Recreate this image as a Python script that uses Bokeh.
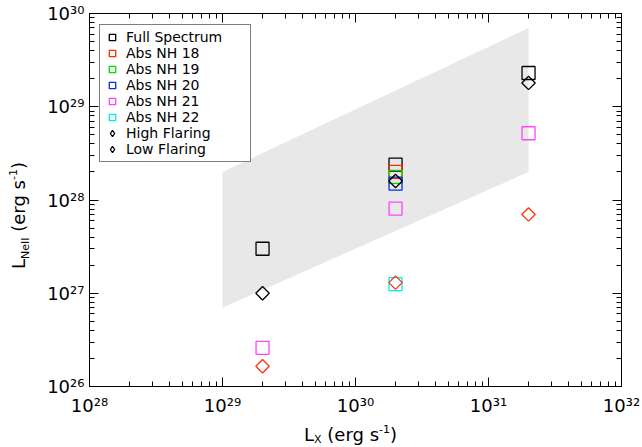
import math
from bokeh.plotting import figure
from bokeh.models import (LogAxis, LogTicker, CustomJSTickFormatter, Legend,
                          LegendItem, Range1d, Div)
from bokeh.layouts import row, column
from bokeh.embed import file_html
from bokeh.resources import INLINE

FONT = "DejaVu Sans"

# ---------------- data ----------------
x_limits = [1e28, 1e32]
y_limits = [1e26, 1e30]

band_x = [1e29, 1e29, 2e31, 2e31]
band_y = [7e26, 2e28, 7e29, 2e28]

full_x = [2e29, 2e30, 2e31]
full_y = [3.0e27, 2.4e28, 2.3e29]
nh18_x = [2e30]
nh18_y = [2.0e28]
nh19_x = [2e30]
nh19_y = [1.77e28]
nh20_x = [2e30]
nh20_y = [1.5e28]
nh21_x = [2e29, 2e30, 2e31]
nh21_y = [2.6e26, 8.1e27, 5.2e28]
nh22_x = [2e30]
nh22_y = [1.25e27]
high_x = [2e29, 2e30, 2e31]
high_y = [1.0e27, 1.6e28, 1.8e29]
low_x = [2e29, 2e30, 2e31]
low_y = [1.65e26, 1.3e27, 7.0e27]

labels = ["Full Spectrum", "Abs NH 18", "Abs NH 19", "Abs NH 20",
          "Abs NH 21", "Abs NH 22", "High Flaring", "Low Flaring"]

# ---------------- layout ----------------
YT_W = 30            # width of the y-title column
XT_H = 29            # height of the x-title row
PW, PH = 642 - YT_W, 447 - XT_H
ML, MR, MT, MB = 59, 21, 13, 30
FW, FH = PW - ML - MR, PH - MT - MB

p = figure(width=PW, height=PH, x_axis_type="log", y_axis_type="log",
           x_range=Range1d(*x_limits), y_range=Range1d(*y_limits),
           output_backend="svg", toolbar_location=None,
           min_border_left=ML, min_border_right=MR,
           min_border_top=MT, min_border_bottom=MB)
p.grid.visible = False
p.outline_line_color = "black"
p.background_fill_color = "white"
p.border_fill_color = "white"

sup_code = """
const sup = {"0":"\u2070","1":"\u00b9","2":"\u00b2","3":"\u00b3","4":"\u2074",
             "5":"\u2075","6":"\u2076","7":"\u2077","8":"\u2078","9":"\u2079","-":"\u207b"};
const e = Math.round(Math.log10(tick));
return "10" + String(e).split("").map(c => sup[c]).join("");
"""

p.add_layout(LogAxis(), "above")
p.add_layout(LogAxis(), "right")

for ax in p.axis:
    ax.ticker = LogTicker(num_minor_ticks=10)
    ax.axis_line_color = "black"
    ax.axis_line_width = 1
    ax.major_tick_in = 9
    ax.major_tick_out = 0
    ax.minor_tick_in = 5
    ax.minor_tick_out = 0
    ax.major_tick_line_color = "black"
    ax.minor_tick_line_color = "black"
    ax.major_label_text_font = FONT
    ax.major_label_text_font_size = "18px"
    ax.major_label_text_color = "black"

for ax in [p.below[0], p.left[0]]:
    ax.formatter = CustomJSTickFormatter(code=sup_code)
p.below[0].major_label_standoff = 8
p.left[0].major_label_standoff = 5
for ax in [p.above[0], p.right[0]]:
    ax.formatter = CustomJSTickFormatter(code="return '';")
    ax.major_label_standoff = 0
    ax.major_label_text_font_size = "1px"

# ---------------- shaded band ----------------
p.patch(band_x, band_y, fill_color="#e8e8e8", line_color=None)

# ---------------- markers ----------------
SQ = 13
DI = 9.5
LW = 1.3
r_full = p.scatter(full_x, full_y, marker="square", size=SQ, fill_color=None,
                   line_color="black", line_width=LW)
r18 = p.scatter(nh18_x, nh18_y, marker="square", size=SQ, fill_color=None,
                line_color="#ff2a00", line_width=LW)
r19 = p.scatter(nh19_x, nh19_y, marker="square", size=SQ, fill_color=None,
                line_color="#00dd00", line_width=LW)
r20 = p.scatter(nh20_x, nh20_y, marker="square", size=SQ, fill_color=None,
                line_color="#0a28e6", line_width=LW)
r21 = p.scatter(nh21_x, nh21_y, marker="square", size=SQ, fill_color=None,
                line_color="#ff44ff", line_width=LW)
r22 = p.scatter(nh22_x, nh22_y, marker="square", size=SQ, fill_color=None,
                line_color="#00eeee", line_width=LW)
p.scatter(high_x, high_y, marker="square", angle=math.pi / 4, size=DI,
          fill_color=None, line_color="black", line_width=LW)
p.scatter(low_x, low_y, marker="square", angle=math.pi / 4, size=DI,
          fill_color=None, line_color="#ff3010", line_width=LW)
# legend proxies (black diamonds in the legend)
r_high = p.scatter(high_x, high_y, marker="diamond", size=DI, fill_color=None,
                   line_color="black", line_width=LW, visible=False)
r_low = p.scatter(low_x, low_y, marker="diamond", size=DI, fill_color=None,
                  line_color="black", line_width=LW, visible=False)

rends = [r_full, r18, r19, r20, r21, r22, r_high, r_low]
LEG_PAD = 4
LEG_H = 8 * 16 + 2 * LEG_PAD
legend = Legend(items=[LegendItem(label=l, renderers=[r]) for l, r in zip(labels, rends)],
                location=(10, FH - 15 - LEG_H))
legend.border_line_color = "black"
legend.border_line_width = 1
legend.background_fill_color = "white"
legend.background_fill_alpha = 1
legend.label_text_font = FONT
legend.label_text_font_size = "14px"
legend.label_text_color = "black"
legend.glyph_width = 16
legend.glyph_height = 16
legend.label_height = 16
legend.label_width = 120
legend.label_standoff = 6
legend.spacing = 0
legend.padding = LEG_PAD
legend.margin = 0
legend.click_policy = "none"
p.add_layout(legend)

# ---------------- axis titles (HTML text with sub/superscripts) ----------------
SUB = "font-size:11px;position:relative;top:{}px"
y_title = (
    f"<div style=\"width:447px;height:{YT_W}px;box-sizing:border-box;"
    "transform-origin:0 0;transform:translate(0px,447px) rotate(-90deg);"
    f"font-family:'{FONT}';font-size:18px;line-height:21px;color:black;"
    "white-space:nowrap;padding:8px 0 0 178px;\">"
    f"L<span style=\"{SUB.format(4)}\">NeII</span> (erg s"
    f"<span style=\"{SUB.format(-8)}\">-1</span>)</div>"
)
x_title = (
    f"<div style=\"font-family:'{FONT}';font-size:18px;line-height:21px;color:black;"
    "white-space:nowrap;padding:6px 0 0 274px;\">"
    f"L<span style=\"{SUB.format(2)}\">X</span> (erg s"
    f"<span style=\"{SUB.format(-8)}\">-1</span>)</div>"
)
ydiv = Div(text=y_title, width=YT_W, height=447, margin=0)
xdiv = Div(text=x_title, width=PW, height=XT_H, margin=0)

layout = row(ydiv, column(p, xdiv, spacing=0), spacing=0)

open("out.html", "w").write(file_html(layout, INLINE))
